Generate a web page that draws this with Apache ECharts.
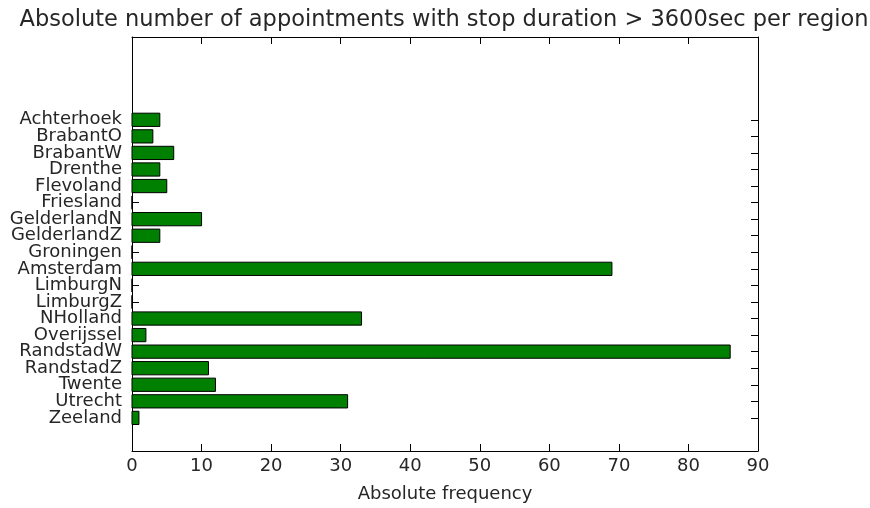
<!DOCTYPE html>
<html>
<head>
<meta charset="utf-8">
<script src="https://cdn.jsdelivr.net/npm/echarts@6/dist/echarts.min.js"></script>
<style>
  html, body { margin: 0; padding: 0; background: #fff; }
  #chart { width: 870px; height: 508px; }
</style>
</head>
<body>
<div id="chart"></div>
<script>
// Regions, listed top to bottom
const regions = [
  'Achterhoek', 'BrabantO', 'BrabantW', 'Drenthe', 'Flevoland', 'Friesland',
  'GelderlandN', 'GelderlandZ', 'Groningen', 'Amsterdam', 'LimburgN', 'LimburgZ',
  'NHolland', 'Overijssel', 'RandstadW', 'RandstadZ', 'Twente', 'Utrecht', 'Zeeland'
];
// Appointments with stop duration > 3600 sec
const counts = [4, 3, 6, 4, 5, 0, 10, 4, 0, 69, 0, 0, 33, 2, 86, 11, 12, 31, 1];
const xTicks = [0, 10, 20, 30, 40, 50, 60, 70, 80, 90];

// y axis runs from 5 slots above the first region to 2 slots below the last
const Y_MIN = -5;
const Y_MAX = regions.length + 1;
const regionIdx = regions.map((_, i) => i);
// blank end labels keep the region labels clear of min/max label pruning
const yLabelValues = [Y_MIN].concat(regionIdx, [Y_MAX]);

const FONT = 'DejaVu Sans';
const TEXT = '#262626';

const chart = echarts.init(document.getElementById('chart'), null, { renderer: 'canvas' });

const xCommon = {
  type: 'value', min: 0, max: 90, interval: 10,
  axisLine: { show: true, onZero: false, lineStyle: { color: '#000', width: 1 } },
  axisTick: { show: true, inside: true, length: 7, lineStyle: { color: '#000' } },
  splitLine: { show: false }
};
const yCommon = {
  type: 'value', min: Y_MIN, max: Y_MAX, interval: 1, inverse: true,
  axisLine: { show: true, onZero: false, lineStyle: { color: '#000', width: 1 } },
  axisTick: { show: true, inside: true, length: 7, customValues: regionIdx, lineStyle: { color: '#000' } },
  splitLine: { show: false }
};

chart.setOption({
  backgroundColor: '#fff',
  animation: false,
  title: {
    text: 'Absolute number of appointments with stop duration > 3600sec per region',
    left: 439, top: 4, textAlign: 'center',
    textStyle: { fontFamily: FONT, fontSize: 22.5, fontWeight: 'normal', color: TEXT }
  },
  grid: { left: 132, right: 112, top: 37, bottom: 54, containLabel: false },
  xAxis: [
    Object.assign({}, xCommon, {
      position: 'bottom',
      name: 'Absolute frequency', nameLocation: 'middle', nameGap: 34,
      nameTextStyle: { fontFamily: FONT, fontSize: 18, color: TEXT },
      axisLabel: { show: true, margin: 6, fontFamily: FONT, fontSize: 18, color: TEXT,
        showMinLabel: true, showMaxLabel: true, customValues: xTicks }
    }),
    Object.assign({}, xCommon, { position: 'top', axisLabel: { show: false } })
  ],
  yAxis: [
    Object.assign({}, yCommon, {
      position: 'left',
      axisLabel: {
        show: true, margin: 10, fontFamily: FONT, fontSize: 18, color: TEXT,
        hideOverlap: false,
        customValues: yLabelValues,
        formatter: v => (v >= 0 && v < regions.length ? regions[v] : '')
      }
    }),
    Object.assign({}, yCommon, { position: 'right', axisLabel: { show: false } })
  ],
  series: [{
    type: 'custom',
    xAxisIndex: 0, yAxisIndex: 0,
    encode: { x: 0, y: 1 },
    data: counts.map((c, i) => [c, i]),
    renderItem: function (params, api) {
      const idx = api.value(1);
      const start = api.coord([0, idx]);
      const end = api.coord([api.value(0), idx]);
      const h = api.size([0, 0.8])[1];
      return {
        type: 'rect',
        shape: { x: start[0], y: start[1] - h / 2, width: end[0] - start[0], height: h },
        style: { fill: '#008000', stroke: '#000', lineWidth: 1 }
      };
    }
  }]
});
</script>
</body>
</html>
